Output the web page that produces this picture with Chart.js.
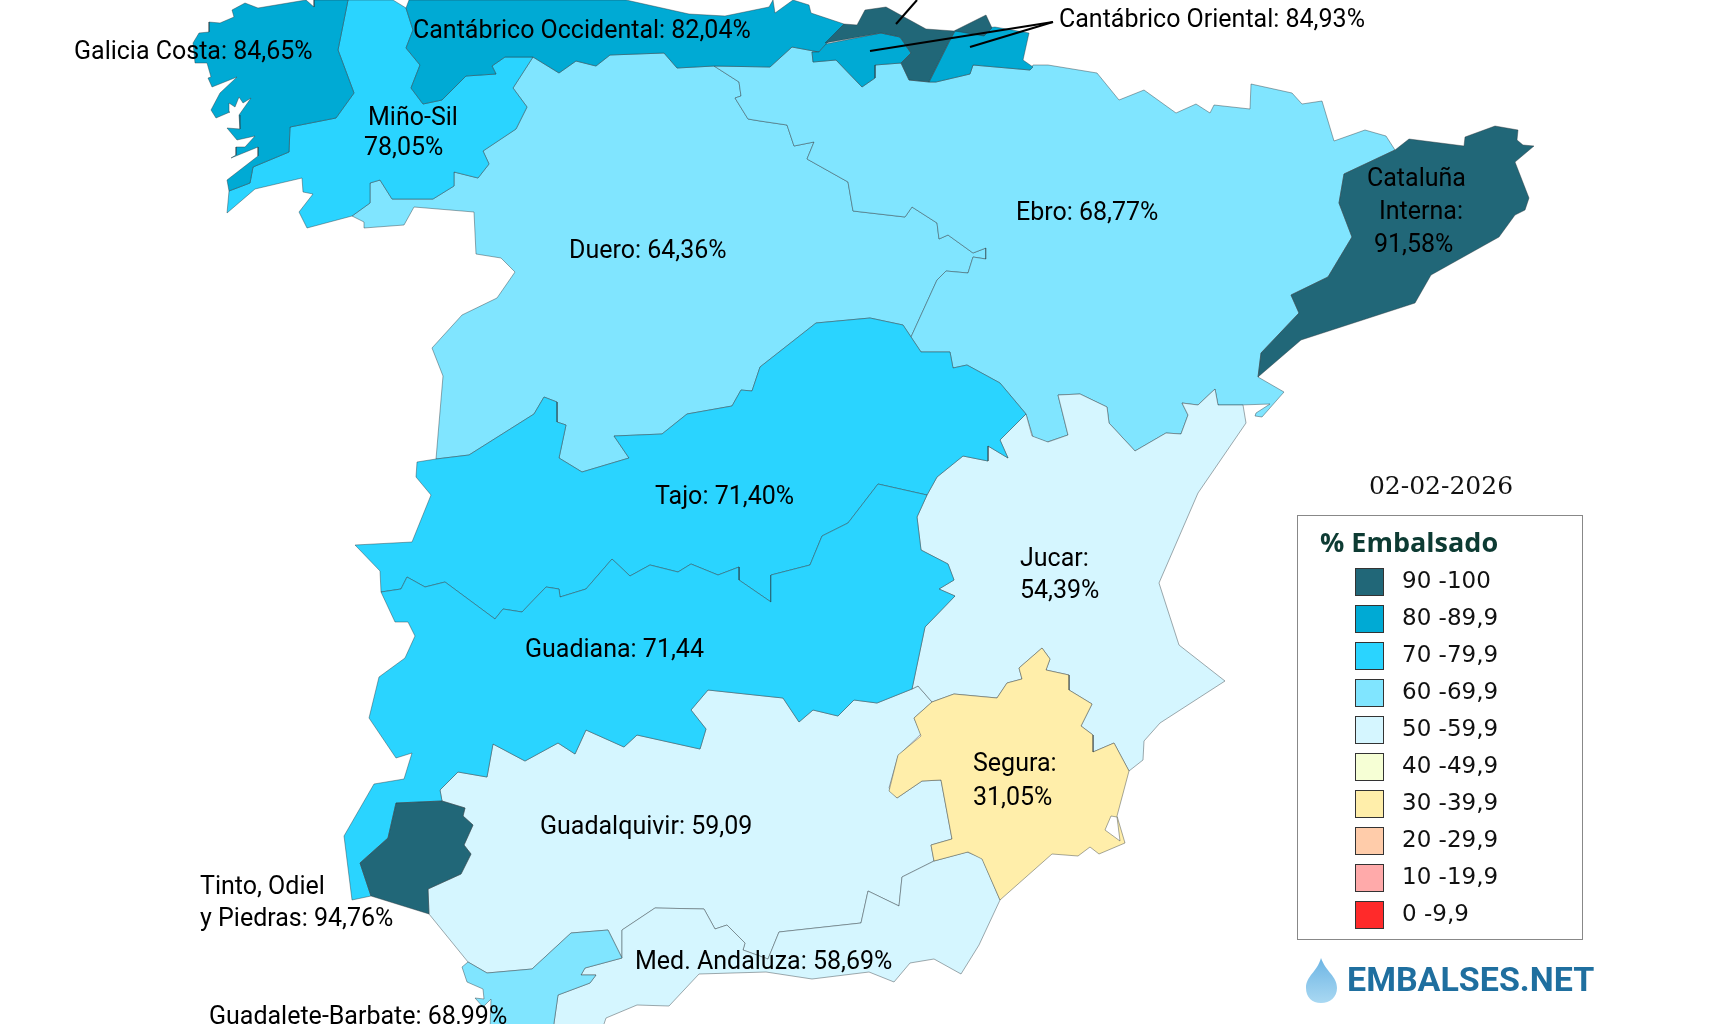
<!DOCTYPE html>
<html>
<head>
<meta charset="utf-8">
<title>Embalses 02-02-2026</title>
<script src="https://cdn.jsdelivr.net/npm/chart.js@4/dist/chart.umd.min.js"></script>
<style>
  html, body { margin: 0; padding: 0; background: #fff; overflow: hidden; }
  canvas { display: block; }
</style>
</head>
<body>
<canvas id="mapa" width="1732" height="1024"></canvas>
<script>
/* ================= DATOS ================= */

const fecha = "02-02-2026";
const tituloLeyenda = "% Embalsado";

const bandMin = [90, 80, 70, 60, 50, 40, 30, 20, 10, 0];
const bandLabels = ["90 -100", "80 -89,9", "70 -79,9", "60 -69,9", "50 -59,9", "40 -49,9", "30 -39,9", "20 -29,9", "10 -19,9", "0 -9,9"];
const bandColors = ["#216778", "#00aad4", "#2ad4ff", "#80e5ff", "#d5f6ff", "#f6ffd5", "#ffeeaa", "#ffccaa", "#ffaaaa", "#ff2a2a"];

const galiciaCosta = [[258,8],[245,3],[232,10],[234,17],[220,23],[209,22],[209,32],[199,33],[193,43],[195,63],[207,63],[211,77],[208,78],[212,87],[237,77],[220,93],[211,110],[216,118],[230,112],[229,103],[235,107],[239,97],[243,103],[251,98],[239,115],[240,129],[227,128],[237,140],[255,136],[245,147],[236,147],[236,155],[231,158],[258,147],[258,156],[227,180],[229,191],[250,183],[253,167],[289,152],[290,127],[336,118],[354,93],[338,50],[348,0],[314,0],[314,7],[306,0]];
const minoSil = [[348,0],[338,50],[354,93],[336,118],[290,127],[289,152],[253,167],[250,183],[229,191],[227,213],[255,189],[302,178],[303,192],[313,194],[299,212],[307,228],[352,216],[370,203],[370,183],[380,180],[392,199],[433,199],[454,186],[454,172],[478,178],[489,164],[483,151],[516,129],[527,107],[513,88],[533,57],[505,57],[492,66],[496,74],[466,76],[442,100],[423,104],[411,88],[420,65],[406,48],[413,30],[406,8],[393,0]];
const cantabricoOcc = [[409,0],[406,8],[413,30],[406,48],[420,65],[411,88],[423,104],[442,100],[466,76],[496,74],[492,66],[505,57],[533,57],[559,73],[576,61],[596,66],[610,55],[664,53],[677,68],[714,66],[770,67],[792,47],[819,52],[844,24],[811,13],[809,5],[793,0],[775,13],[773,0],[769,7],[725,16],[689,14],[626,0]];
const cantabricoOri1 = [[819,52],[826,44],[881,33],[900,37],[911,53],[901,63],[875,65],[875,78],[862,87],[836,60],[813,62],[812,52]];
const cantabricoOri2 = [[955,31],[995,27],[1029,33],[1023,60],[1033,67],[1030,70],[973,65],[970,74],[936,82],[929,82],[949,42]];
const vascoInterno = [[825,43],[844,24],[857,25],[865,10],[886,7],[926,29],[954,31],[986,15],[992,28],[984,36],[955,31],[949,42],[929,82],[909,80],[901,63],[911,53],[900,37],[881,33]];
const ebro = [[714,66],[770,67],[792,47],[819,52],[812,52],[813,62],[836,60],[862,87],[875,78],[875,65],[901,63],[909,80],[929,82],[936,82],[970,74],[973,65],[1030,70],[1033,65],[1048,65],[1097,73],[1119,100],[1144,90],[1176,113],[1196,104],[1210,113],[1214,105],[1250,109],[1251,84],[1292,93],[1302,104],[1322,101],[1334,141],[1365,130],[1386,136],[1395,150],[1344,174],[1339,203],[1352,237],[1328,277],[1291,295],[1299,313],[1261,353],[1258,377],[1284,392],[1262,417],[1255,416],[1256,413],[1270,404],[1240,405],[1218,405],[1215,389],[1198,405],[1182,403],[1188,415],[1181,434],[1166,433],[1135,451],[1109,423],[1107,407],[1080,394],[1058,395],[1068,435],[1047,442],[1033,437],[1026,414],[1000,383],[967,365],[953,368],[950,352],[921,352],[911,337],[937,280],[946,271],[968,273],[973,257],[986,259],[986,248],[973,253],[948,235],[939,239],[937,223],[912,207],[905,217],[853,211],[848,182],[807,159],[814,142],[794,146],[787,125],[760,121],[748,119],[735,98],[741,96],[739,82]];
const duero = [[533,57],[559,73],[576,61],[596,66],[610,55],[664,53],[677,68],[714,66],[739,82],[741,96],[735,98],[748,119],[760,121],[787,125],[794,146],[814,142],[807,159],[848,182],[853,211],[905,217],[912,207],[937,223],[939,239],[948,235],[973,253],[986,248],[986,259],[973,257],[968,273],[946,271],[937,280],[911,337],[903,325],[870,318],[816,323],[760,367],[752,391],[741,390],[732,406],[687,414],[662,434],[614,436],[629,458],[582,472],[559,458],[566,425],[557,422],[557,402],[544,397],[534,414],[469,455],[436,459],[443,376],[432,348],[462,315],[497,298],[515,272],[501,258],[476,254],[474,212],[414,207],[404,225],[364,228],[364,222],[352,216],[370,203],[370,183],[380,180],[392,199],[433,199],[454,186],[454,172],[478,178],[489,164],[483,151],[516,129],[527,107],[513,88]];
const tajo = [[911,337],[921,352],[950,352],[953,368],[967,365],[1000,383],[1026,414],[1000,440],[1008,458],[988,446],[988,461],[963,456],[937,477],[927,495],[878,484],[848,523],[822,536],[810,565],[771,575],[771,602],[739,580],[739,567],[718,575],[691,564],[678,572],[650,565],[630,576],[612,559],[586,589],[560,597],[559,589],[546,587],[522,612],[503,609],[495,619],[445,582],[425,587],[407,577],[401,589],[381,592],[380,571],[355,545],[412,542],[431,495],[416,477],[417,462],[436,459],[469,455],[534,414],[544,397],[557,402],[557,422],[566,425],[559,458],[582,472],[629,458],[614,436],[662,434],[687,414],[732,406],[741,390],[752,391],[760,367],[816,323],[870,318],[903,325]];
const guadiana = [[927,495],[917,517],[921,550],[948,564],[954,580],[939,589],[955,596],[925,627],[912,689],[877,703],[854,700],[838,716],[813,710],[799,722],[783,698],[708,690],[691,710],[706,729],[700,749],[637,735],[624,747],[586,730],[575,754],[558,743],[525,761],[493,744],[487,777],[458,772],[440,790],[442,801],[396,803],[388,838],[360,863],[371,896],[352,900],[344,836],[374,784],[404,779],[412,753],[396,758],[369,718],[379,677],[405,658],[415,636],[408,622],[395,622],[381,592],[401,589],[407,577],[425,587],[445,582],[495,619],[503,609],[522,612],[546,587],[559,589],[560,597],[586,589],[612,559],[630,576],[650,565],[678,572],[691,564],[718,575],[739,567],[739,580],[771,602],[771,575],[810,565],[822,536],[848,523],[878,484]];
const guadalquivir = [[442,801],[465,808],[463,816],[473,825],[464,845],[471,854],[461,874],[428,889],[429,914],[468,962],[487,973],[532,969],[571,933],[608,930],[622,958],[622,930],[655,908],[704,909],[715,929],[727,925],[745,943],[743,950],[768,959],[779,932],[861,923],[868,891],[899,906],[902,877],[934,861],[931,845],[952,839],[941,780],[922,781],[897,798],[889,788],[898,756],[921,734],[914,718],[932,702],[918,686],[912,689],[877,703],[854,700],[838,716],[813,710],[799,722],[783,698],[708,690],[691,710],[706,729],[700,749],[637,735],[624,747],[586,730],[575,754],[558,743],[525,761],[493,744],[487,777],[458,772],[440,790]];
const tintoOdiel = [[396,803],[442,801],[465,808],[463,816],[473,825],[464,845],[471,854],[461,874],[428,889],[429,914],[371,896],[360,863],[388,838]];
const medAndaluza = [[622,930],[655,908],[704,909],[715,929],[727,925],[745,943],[743,950],[768,959],[779,932],[861,923],[868,891],[899,906],[902,877],[934,861],[967,852],[982,858],[1000,900],[979,945],[961,974],[934,959],[910,963],[894,982],[869,972],[812,979],[766,972],[699,974],[669,1006],[637,1005],[606,1018],[602,1030],[553,1030],[558,995],[590,983],[596,975],[581,975],[585,968],[622,958]];
const guadaleteBarbate = [[468,962],[462,967],[467,982],[483,989],[484,999],[475,998],[483,1007],[491,999],[490,1030],[553,1030],[558,995],[590,983],[596,975],[581,975],[585,968],[622,958],[608,930],[571,933],[532,969],[487,973]];
const jucar = [[1026,414],[1032,436],[1048,442],[1068,435],[1058,395],[1080,394],[1107,407],[1109,423],[1135,451],[1166,433],[1181,434],[1188,415],[1182,403],[1198,405],[1215,389],[1218,405],[1243,405],[1246,423],[1198,493],[1159,583],[1179,645],[1225,681],[1160,723],[1144,741],[1143,760],[1129,771],[1114,743],[1093,752],[1093,735],[1081,726],[1092,704],[1069,690],[1069,675],[1046,670],[1050,659],[1042,648],[1019,668],[1022,679],[1007,683],[997,698],[954,694],[932,702],[918,686],[912,689],[925,627],[955,596],[939,589],[954,580],[948,564],[921,550],[917,517],[927,495],[937,477],[963,456],[988,461],[988,446],[1008,458],[1000,440]];
const segura = [[914,718],[932,702],[954,694],[997,698],[1007,683],[1022,679],[1019,668],[1042,648],[1050,659],[1046,670],[1069,675],[1069,690],[1092,704],[1081,726],[1093,735],[1093,752],[1114,743],[1129,771],[1117,816],[1125,843],[1099,854],[1090,847],[1078,856],[1052,854],[1000,900],[982,859],[968,852],[934,861],[931,845],[952,839],[941,780],[922,781],[897,798],[889,791],[898,755],[921,736]];
const marMenor = [[1111,816],[1117,817],[1120,841],[1105,830]];
const cataluna = [[1395,150],[1409,139],[1464,146],[1465,137],[1495,126],[1518,130],[1517,140],[1523,145],[1534,146],[1515,162],[1529,198],[1525,210],[1515,215],[1499,237],[1431,275],[1415,303],[1301,340],[1258,377],[1261,353],[1299,313],[1291,295],[1328,277],[1352,237],[1339,203],[1344,174]];

// orden de dibujo: los primeros quedan debajo
const regions = [duero, ebro, guadalquivir, medAndaluza, jucar, tajo, guadiana, guadaleteBarbate, minoSil, galiciaCosta, cantabricoOcc, cantabricoOri1, cantabricoOri2, vascoInterno, tintoOdiel, cataluna, segura];
const regionValues = [64.36, 68.77, 59.09, 58.69, 54.39, 71.40, 71.44, 68.99, 78.05, 84.65, 82.04, 84.93, 84.93, 93, 94.76, 91.58, 31.05];

const leaders = [
  [[896,24],[917,0]],
  [[1053,22],[870,51]],
  [[1053,22],[970,47]]
];

const labelTexts = ["Galicia Costa: 84,65%", "Cantábrico Occidental: 82,04%", "Cantábrico Oriental: 84,93%", "Miño-Sil", "78,05%", "Duero: 64,36%", "Ebro: 68,77%", "Cataluña", "Interna:", "91,58%", "Tajo: 71,40%", "Jucar:", "54,39%", "Guadiana: 71,44", "Segura:", "31,05%", "Guadalquivir: 59,09", "Tinto, Odiel", "y Piedras: 94,76%", "Med. Andaluza: 58,69%", "Guadalete-Barbate: 68,99%"];
const labelX = [74, 413, 1059, 368, 364, 569, 1016, 1367, 1379, 1374, 655, 1020, 1020, 525, 973, 973, 540, 200, 200, 635, 209];
const labelY = [53, 32, 21, 119, 149, 252, 214, 180, 213, 246, 498, 560, 592, 651, 765, 799, 828, 888, 920, 963, 1018];

/* ================= CHART ================= */

function bandColor(value) {
  const i = bandMin.findIndex(m => value >= m);
  return bandColors[i];
}

function toPoints(arr) {
  const pts = arr.map(p => ({ x: p[0], y: p[1] }));
  pts.push({ x: arr[0][0], y: arr[0][1] });
  return pts;
}

const datasets = [];

regions.forEach((region, i) => {
  datasets.push({
    data: toPoints(region),
    showLine: true,
    fill: "shape",
    backgroundColor: bandColor(regionValues[i]),
    borderColor: "rgba(40,50,55,0.6)",
    borderWidth: 0.7,
    pointRadius: 0,
    tension: 0,
    order: 100 - i
  });
});

datasets.push({
  data: toPoints(marMenor),
  showLine: true,
  fill: "shape",
  backgroundColor: "#ffffff",
  borderColor: "rgba(40,50,55,0.6)",
  borderWidth: 0.7,
  pointRadius: 0,
  order: 50
});

leaders.forEach(line => {
  datasets.push({
    data: line.map(p => ({ x: p[0], y: p[1] })),
    showLine: true,
    fill: false,
    borderColor: "#000",
    borderWidth: 2,
    pointRadius: 0,
    order: 10
  });
});

const textPlugin = {
  id: "textos",
  afterDraw(chart) {
    const { ctx, scales } = chart;
    ctx.save();
    ctx.textBaseline = "middle";
    ctx.textAlign = "left";

    // etiquetas del mapa
    ctx.fillStyle = "#000";
    ctx.font = "25px Roboto";
    labelTexts.forEach((t, i) => {
      ctx.fillText(t, scales.x.getPixelForValue(labelX[i]), scales.y.getPixelForValue(labelY[i]));
    });

    // fecha
    ctx.textAlign = "center";
    ctx.font = "25px 'DejaVu Serif'";
    ctx.fillStyle = "#111";
    ctx.fillText(fecha, 1441, 487);
    ctx.textAlign = "left";

    // leyenda
    ctx.strokeStyle = "#888";
    ctx.lineWidth = 1;
    ctx.strokeRect(1297.5, 515.5, 285, 424);

    ctx.font = "bold 27px 'Open Sans'";
    ctx.fillStyle = "#0d3b33";
    ctx.fillText(tituloLeyenda, 1320, 544);

    ctx.font = "23px 'DejaVu Sans'";
    bandLabels.forEach((t, i) => {
      const cy = 582 + i * 37;
      ctx.fillStyle = bandColors[i];
      ctx.fillRect(1355, cy - 14, 29, 28);
      ctx.strokeStyle = "#333";
      ctx.lineWidth = 1;
      ctx.strokeRect(1355.5, cy - 13.5, 28, 27);
      ctx.fillStyle = "#111";
      ctx.fillText(t, 1402, cy);
    });

    // logo
    const grad = ctx.createLinearGradient(0, 958, 0, 1003);
    grad.addColorStop(0, "#6db5e4");
    grad.addColorStop(1, "#a9d8f2");
    ctx.fillStyle = grad;
    ctx.beginPath();
    ctx.moveTo(1321, 958);
    ctx.bezierCurveTo(1326, 972, 1337, 976, 1337, 988);
    ctx.bezierCurveTo(1337, 997, 1330, 1003, 1321, 1003);
    ctx.bezierCurveTo(1312, 1003, 1306, 997, 1306, 988);
    ctx.bezierCurveTo(1306, 976, 1317, 972, 1321, 958);
    ctx.fill();

    ctx.font = "bold 34px Roboto";
    ctx.fillStyle = "#1f6f9f";
    ctx.fillText("EMBALSES.NET", 1347, 982);

    ctx.restore();
  }
};

new Chart(document.getElementById("mapa"), {
  type: "scatter",
  data: { datasets },
  plugins: [textPlugin],
  options: {
    responsive: false,
    animation: false,
    devicePixelRatio: 1,
    layout: { padding: 0 },
    plugins: {
      legend: { display: false },
      tooltip: { enabled: false },
      title: { display: false }
    },
    scales: {
      x: { type: "linear", min: 0, max: 1732, display: false },
      y: { type: "linear", min: 0, max: 1024, reverse: true, display: false }
    }
  }
});
</script>
</body>
</html>
